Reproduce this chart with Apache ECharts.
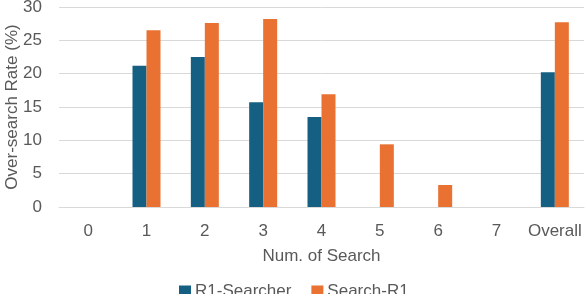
<!DOCTYPE html>
<html><head><meta charset="utf-8">
<script src="https://cdn.jsdelivr.net/npm/echarts@6/dist/echarts.min.js"></script>
<style>html,body{margin:0;padding:0;background:#fff}#c{width:586px;height:294px}</style>
</head><body><div id="c"></div>
<script>
const categories = ['0','1','2','3','4','5','6','7','Overall'];
const r1Searcher = [null, 21.2, 22.5, 15.7, 13.5, null, null, null, 20.2];
const searchR1 = [null, 26.5, 27.6, 28.2, 16.9, 9.4, 3.3, null, 27.7];
const yTicks = [0, 5, 10, 15, 20, 25, 30];
const yTitle = 'Over-search Rate (%)';
const font = 'Liberation Sans, Arial, sans-serif';
const fs = 17;
const chart = echarts.init(document.getElementById('c'));
chart.setOption({
  animation: false,
  textStyle: {fontFamily: font},
  grid: {left: 59, right: 2, top: 7, bottom: 87, containLabel: false, outerBoundsMode: 'none'},
  legend: {
    data: ['R1-Searcher', 'Search-R1'], top: 278, left: 174,
    itemWidth: 12, itemHeight: 12, itemGap: 20,
    icon: 'rect',
    textStyle: {color: '#595959', fontSize: fs, fontFamily: font, padding: [0,0,0,-1]}
  },
  graphic: [{
    type: 'text', x: 12, y: 107, rotation: Math.PI / 2,
    style: {text: yTitle, fill: '#595959', fontSize: fs, fontFamily: font,
            align: 'center', verticalAlign: 'middle'}
  }],
  xAxis: {
    type: 'category', data: categories,
    name: 'Num. of Search', nameLocation: 'middle', nameGap: 41, nameMoveOverlap: false,
    nameTextStyle: {color: '#595959', fontSize: fs, fontFamily: font},
    axisLine: {show: true, lineStyle: {color: '#d9d9d9', width: 1}},
    axisTick: {show: false},
    axisLabel: {interval: 0, color: '#595959', fontSize: fs, margin: 16, fontFamily: font}
  },
  yAxis: {
    type: 'value', min: yTicks[0], max: yTicks[yTicks.length-1], interval: 5,
    axisLine: {show: false}, axisTick: {show: false},
    axisLabel: {color: '#595959', fontSize: fs, margin: 17, fontFamily: font},
    splitLine: {lineStyle: {color: '#d9d9d9', width: 1}}
  },
  series: [
    {name: 'R1-Searcher', type: 'bar', data: r1Searcher, barWidth: 14, barGap: '0%',
     itemStyle: {color: '#156082'}},
    {name: 'Search-R1', type: 'bar', data: searchR1, barWidth: 14,
     itemStyle: {color: '#E97132'}}
  ]
});
</script></body></html>
